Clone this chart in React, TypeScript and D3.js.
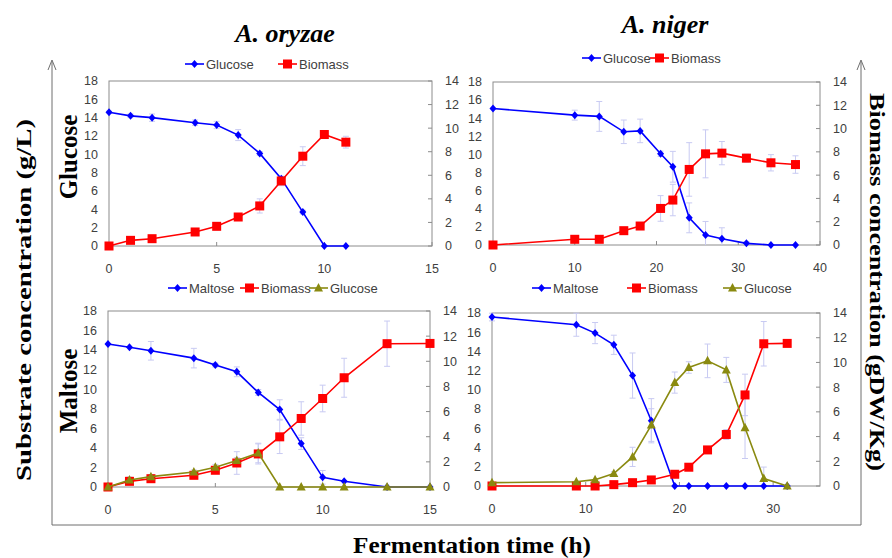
import React from "react";
import * as d3 from "d3";

// A. oryzae, glucose medium
const oryGlcTime = [0, 1, 2, 4, 5, 6, 7, 8, 9, 10, 11];
const oryGlcGlucose = [14.6, 14.2, 14.0, 13.45, 13.2, 12.1, 10.1, 7.35, 3.7, 0, 0];
const oryGlcGlucoseErr = [0.1, 0.2, 0.4, 0.3, 0.4, 0.6, 0.2, 0.2, 0.2, 0, 0];
const oryGlcBiomass = [0, 0.48, 0.62, 1.19, 1.67, 2.46, 3.4, 5.52, 7.62, 9.46, 8.81];
const oryGlcBiomassErr = [0, 0.1, 0.1, 0.2, 0.3, 0.2, 0.6, 0.4, 0.8, 0.2, 0.5];

// A. niger, glucose medium
const nigGlcTime = [0, 10, 13, 16, 18, 20.5, 22, 24, 26, 28, 31, 34, 37];
const nigGlcGlucose = [15.07, 14.34, 14.2, 12.5, 12.6, 10.07, 8.64, 3.0, 1.1, 0.7, 0.18, 0, 0];
const nigGlcGlucoseErr = [0, 0.55, 1.65, 1.3, 1.3, 0.3, 1.7, 1.65, 1.5, 1.2, 0.2, 0, 0];
const nigGlcBiomass = [0, 0.49, 0.49, 1.23, 1.63, 3.14, 3.86, 6.49, 7.83, 7.89, 7.46, 7.06, 6.91];
const nigGlcBiomassErr = [0, 0, 0, 0.1, 0.3, 1.1, 1.35, 2.3, 2.06, 1.0, 0.35, 0.7, 0.75];

// A. oryzae, maltose medium
const oryMalTime = [0, 1, 2, 4, 5, 6, 7, 8, 9, 10, 11, 13, 15];
const oryMalMaltose = [14.62, 14.3, 13.93, 13.18, 12.47, 11.78, 9.67, 7.92, 4.44, 0.99, 0.58, 0, 0];
const oryMalMaltoseErr = [0, 0, 0.95, 1.0, 0.2, 0.5, 0.3, 1.0, 0.6, 0.7, 0, 0, 0];
const oryMalBiomass = [0, 0.45, 0.66, 0.93, 1.33, 1.91, 2.63, 3.99, 5.45, 7.04, 8.69, 11.4, 11.42];
const oryMalBiomassErr = [0, 0.1, 0.1, 0.1, 0.2, 0.9, 0.8, 1.33, 1.33, 1.06, 1.55, 1.8, 0];
const oryMalGlucose = [0, 0.72, 1.06, 1.54, 2.01, 2.7, 3.48, 0, 0, 0, 0, 0, 0];
const oryMalGlucoseErr = [0, 0.3, 0.2, 0.2, 0.3, 0.3, 1.0, 0, 0, 0, 0, 0, 0];

// A. niger, maltose medium
const nigMalTime = [0, 9, 11, 13, 15, 17, 19.5, 21, 23, 25, 27, 29, 31.5];
const nigMalMaltose = [17.58, 16.78, 15.91, 14.69, 11.49, 6.79, 0, 0, 0, 0, 0, 0, 0];
const nigMalMaltoseErr = [0.4, 1.2, 1.1, 1.0, 2.35, 2.3, 0, 0, 0, 0, 0, 0, 0];
const nigMalBiomass = [0, 0, 0, 0.11, 0.27, 0.49, 0.95, 1.52, 2.92, 4.17, 7.37, 11.51, 11.54];
const nigMalBiomassErr = [0, 0, 0, 0, 0, 0, 0, 0, 0, 0.4, 1.68, 1.8, 0];
const nigMalGlucose = [0.35, 0.45, 0.66, 1.29, 3.03, 6.34, 10.76, 12.33, 13.02, 12.08, 6.06, 0.77, 0];
const nigMalGlucoseErr = [0, 0, 0, 0.2, 1.0, 1.7, 1.1, 0.6, 1.75, 1.3, 3.2, 1.2, 0];

const leftTicks = [0, 2, 4, 6, 8, 10, 12, 14, 16, 18];
const rightTicks = [0, 2, 4, 6, 8, 10, 12, 14];

const BLUE = "#0000ff";
const RED = "#ff0000";
const OLIVE = "#8a8a10";
const ERR = "#c8caf2";
const TICKFONT = "'Liberation Sans', Arial, sans-serif";
const SERIF = "'Liberation Serif', 'Times New Roman', serif";

type Series = {
  name: string;
  color: string;
  marker: "diamond" | "square" | "triangle";
  axis: "left" | "right";
  t: number[];
  v: number[];
  e: number[];
};

type PanelProps = {
  x0: number; x1: number; y0: number; y1: number;
  xMax: number; xTicks: number[];
  series: Series[];
  legendY: number;
  legendX: number[];
};

const Marker = ({ kind, x, y, color }: { kind: string; x: number; y: number; color: string }) => {
  if (kind === "square") return <rect x={x - 4.5} y={y - 4.5} width={9} height={9} fill={color} />;
  if (kind === "triangle") return <path d={`M${x},${y - 5}L${x + 4.5},${y + 3.5}L${x - 4.5},${y + 3.5}Z`} fill={color} />;
  return <path d={`M${x},${y - 4}L${x + 3.5},${y}L${x},${y + 4}L${x - 3.5},${y}Z`} fill={color} />;
};

const Panel = (p: PanelProps) => {
  const x = d3.scaleLinear().domain([0, p.xMax]).range([p.x0, p.x1]);
  const yL = d3.scaleLinear().domain([0, 18]).range([p.y1, p.y0]);
  const yR = d3.scaleLinear().domain([0, 14]).range([p.y1, p.y0]);
  const line = (s: Series) => {
    const y = s.axis === "left" ? yL : yR;
    return d3.line<number>().x((_, i) => x(s.t[i])).y(d => y(d))(s.v) || "";
  };
  return (
    <g>
      <rect x={p.x0} y={p.y0} width={p.x1 - p.x0} height={p.y1 - p.y0} fill="none" stroke="#8c8c8c" strokeWidth={1} />
      {leftTicks.map(t => (
        <text key={"l" + t} x={p.x0 - 11} y={yL(t)} dy="0.35em" textAnchor="end" fontSize={12.5} fill="#404040" fontFamily={TICKFONT}>{t}</text>
      ))}
      {rightTicks.map(t => (
        <g key={"r" + t}>
          <line x1={p.x1 - 4} x2={p.x1} y1={yR(t)} y2={yR(t)} stroke="#8c8c8c" />
          <text x={p.x1 + 13} y={yR(t)} dy="0.35em" textAnchor="start" fontSize={12.5} fill="#404040" fontFamily={TICKFONT}>{t}</text>
        </g>
      ))}
      {p.xTicks.map(t => (
        <g key={"x" + t}>
          <line x1={x(t)} x2={x(t)} y1={p.y1} y2={p.y1 - 4} stroke="#8c8c8c" />
          <text x={x(t)} y={p.y1 + 23} dy="0.35em" textAnchor="middle" fontSize={12.5} fill="#404040" fontFamily={TICKFONT}>{t}</text>
        </g>
      ))}
      {p.series.map(s => {
        const y = s.axis === "left" ? yL : yR;
        return (
          <g key={"e" + s.name}>
            {s.v.map((v, i) => s.e[i] > 0 ? (
              <g key={i}>
                <line x1={x(s.t[i])} x2={x(s.t[i])} y1={y(Math.max(0, v - s.e[i]))} y2={y(v + s.e[i])} stroke={ERR} />
                <line x1={x(s.t[i]) - 3} x2={x(s.t[i]) + 3} y1={y(v + s.e[i])} y2={y(v + s.e[i])} stroke={ERR} />
                {v - s.e[i] > 0 && <line x1={x(s.t[i]) - 3} x2={x(s.t[i]) + 3} y1={y(v - s.e[i])} y2={y(v - s.e[i])} stroke={ERR} />}
              </g>
            ) : null)}
          </g>
        );
      })}
      {p.series.map(s => {
        const y = s.axis === "left" ? yL : yR;
        return (
          <g key={"s" + s.name}>
            <path d={line(s)} fill="none" stroke={s.color} strokeWidth={1.6} />
            {s.v.map((v, i) => <Marker key={i} kind={s.marker} x={x(s.t[i])} y={y(v)} color={s.color} />)}
          </g>
        );
      })}
      {p.series.map((s, i) => (
        <g key={"lg" + s.name}>
          <line x1={p.legendX[i]} x2={p.legendX[i] + 19} y1={p.legendY} y2={p.legendY} stroke={s.color} strokeWidth={1.6} />
          <Marker kind={s.marker} x={p.legendX[i] + 9.5} y={p.legendY} color={s.color} />
          <text x={p.legendX[i] + 21} y={p.legendY} dy="0.35em" fontSize={13} fill="#404040" fontFamily={TICKFONT}>{s.name}</text>
        </g>
      ))}
    </g>
  );
};

export default function App() {
  return (
    <svg width={892} height={558} style={{ position: "absolute", left: 0, top: 0, background: "#fff" }}>
      <rect width={892} height={558} fill="#fff" />
      {/* outer frame with arrows */}
      <path d="M52,62 L52,525 L861,525 L861,62" fill="none" stroke="#6e6e6e" strokeWidth={1} />
      <path d="M48,70 L52,60 L56,70" fill="none" stroke="#6e6e6e" />
      <path d="M857,70 L861,60 L865,70" fill="none" stroke="#6e6e6e" />

      <text x={285} y={42} textAnchor="middle" fontSize={26} fontWeight="bold" fontStyle="italic" fontFamily={SERIF}>A. oryzae</text>
      <text x={665} y={33} textAnchor="middle" fontSize={26} fontWeight="bold" fontStyle="italic" fontFamily={SERIF}>A. niger</text>

      <text transform="translate(31,300) rotate(-90)" textAnchor="middle" fontSize={22} fontWeight="bold" fontFamily={SERIF} textLength={362} lengthAdjust="spacingAndGlyphs">Substrate  concentration  (g/L)</text>
      <text transform="translate(870,282) rotate(90)" textAnchor="middle" fontSize={22} fontWeight="bold" fontFamily={SERIF} textLength={378} lengthAdjust="spacingAndGlyphs">Biomass  concentration  (gDW/Kg)</text>
      <text transform="translate(77,157) rotate(-90)" textAnchor="middle" fontSize={25} fontWeight="bold" fontFamily={SERIF}>Glucose</text>
      <text transform="translate(77,391) rotate(-90)" textAnchor="middle" fontSize={25} fontWeight="bold" fontFamily={SERIF}>Maltose</text>
      <text x={472} y={553} textAnchor="middle" fontSize={24} fontWeight="bold" fontFamily={SERIF} textLength={238} lengthAdjust="spacingAndGlyphs">Fermentation  time  (h)</text>

      <Panel x0={109} x1={432} y0={81} y1={246} xMax={15} xTicks={[0, 5, 10, 15]}
        legendY={64} legendX={[185, 278]}
        series={[
          { name: "Glucose", color: BLUE, marker: "diamond", axis: "left", t: oryGlcTime, v: oryGlcGlucose, e: oryGlcGlucoseErr },
          { name: "Biomass", color: RED, marker: "square", axis: "right", t: oryGlcTime, v: oryGlcBiomass, e: oryGlcBiomassErr },
        ]} />
      <Panel x0={493} x1={820} y0={82} y1={245} xMax={40} xTicks={[0, 10, 20, 30, 40]}
        legendY={58} legendX={[582, 650]}
        series={[
          { name: "Glucose", color: BLUE, marker: "diamond", axis: "left", t: nigGlcTime, v: nigGlcGlucose, e: nigGlcGlucoseErr },
          { name: "Biomass", color: RED, marker: "square", axis: "right", t: nigGlcTime, v: nigGlcBiomass, e: nigGlcBiomassErr },
        ]} />
      <Panel x0={108} x1={430} y0={311} y1={487} xMax={15} xTicks={[0, 5, 10, 15]}
        legendY={288} legendX={[168, 240, 309]}
        series={[
          { name: "Maltose", color: BLUE, marker: "diamond", axis: "left", t: oryMalTime, v: oryMalMaltose, e: oryMalMaltoseErr },
          { name: "Biomass", color: RED, marker: "square", axis: "right", t: oryMalTime, v: oryMalBiomass, e: oryMalBiomassErr },
          { name: "Glucose", color: OLIVE, marker: "triangle", axis: "left", t: oryMalTime, v: oryMalGlucose, e: oryMalGlucoseErr },
        ]} />
      <Panel x0={492} x1={820} y0={313} y1={486} xMax={35} xTicks={[0, 10, 20, 30]}
        legendY={288} legendX={[532, 627, 723]}
        series={[
          { name: "Maltose", color: BLUE, marker: "diamond", axis: "left", t: nigMalTime, v: nigMalMaltose, e: nigMalMaltoseErr },
          { name: "Biomass", color: RED, marker: "square", axis: "right", t: nigMalTime, v: nigMalBiomass, e: nigMalBiomassErr },
          { name: "Glucose", color: OLIVE, marker: "triangle", axis: "left", t: nigMalTime, v: nigMalGlucose, e: nigMalGlucoseErr },
        ]} />
    </svg>
  );
}
